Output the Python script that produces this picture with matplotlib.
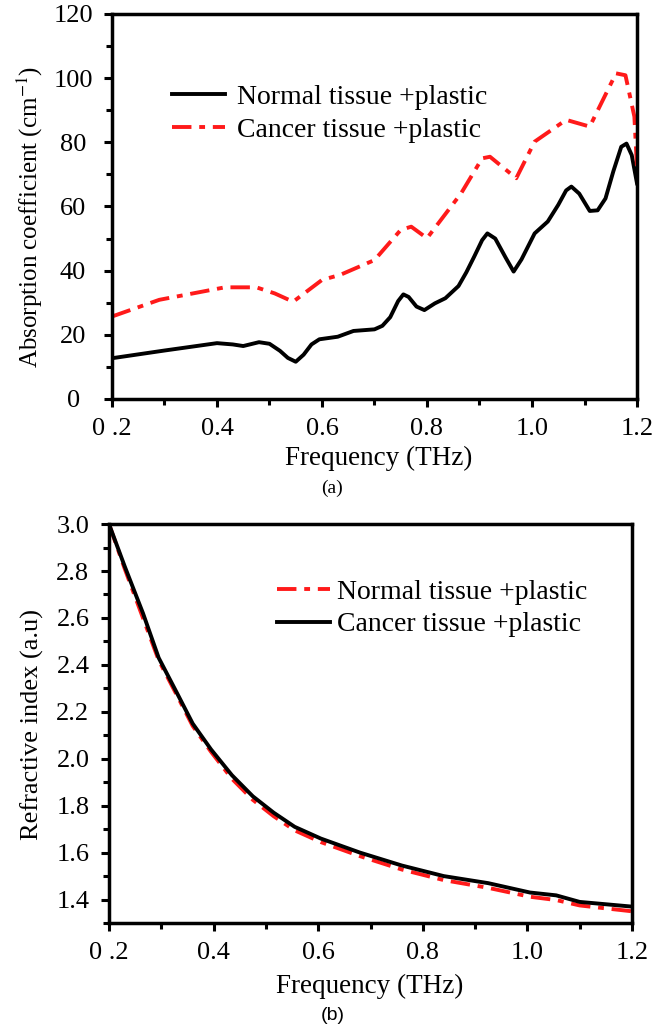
import matplotlib
matplotlib.use('Agg')
import matplotlib.pyplot as plt
from matplotlib.ticker import MultipleLocator

plt.rcParams['font.family'] = ['Liberation Serif', 'DejaVu Serif']
plt.rcParams['mathtext.fontset'] = 'stix'

# (a) absorption coefficient
freq_normal_a = [0.20, 0.30, 0.40, 0.43, 0.45, 0.48, 0.50, 0.52, 0.535, 0.55, 0.565, 0.58,
                 0.595, 0.63, 0.66, 0.70, 0.715, 0.73, 0.745, 0.755, 0.765, 0.78, 0.795,
                 0.815, 0.835, 0.86, 0.875, 0.89, 0.905, 0.915, 0.93, 0.95, 0.965, 0.98,
                 1.005, 1.03, 1.05, 1.065, 1.075, 1.09, 1.11, 1.125, 1.14, 1.155, 1.17,
                 1.18, 1.19, 1.20]
absorb_normal = [12.7, 15.1, 17.4, 17.0, 16.5, 17.7, 17.2, 15.0, 12.8, 11.6, 13.8, 17.0,
                 18.6, 19.4, 21.2, 21.7, 22.8, 25.5, 30.5, 32.6, 31.8, 28.8, 27.7,
                 29.8, 31.4, 35.2, 39.5, 44.4, 49.5, 51.6, 50.0, 44.0, 39.7, 43.5,
                 51.6, 55.3, 60.5, 65.0, 66.2, 64.0, 58.6, 58.8, 62.5, 71.0, 78.6,
                 79.6, 76.0, 67.2]

freq_cancer_a = [0.20, 0.29, 0.415, 0.475, 0.51, 0.545, 0.60, 0.635, 0.70, 0.75, 0.77,
                 0.80, 0.865, 0.905, 0.92, 0.97, 1.005, 1.065, 1.11, 1.16, 1.178, 1.195, 1.20]
absorb_cancer = [25.7, 30.9, 34.8, 34.8, 32.9, 30.3, 37.1, 38.7, 43.3, 52.7, 53.7,
                 50.1, 64.1, 75.0, 75.5, 68.8, 80.2, 87.0, 84.9, 101.5, 100.9, 88.0, 72.0]

# (b) refractive index
freq_b = [0.20, 0.23, 0.265, 0.295, 0.33, 0.36, 0.395, 0.435, 0.475, 0.515, 0.555,
          0.605, 0.68, 0.76, 0.84, 0.925, 1.005, 1.055, 1.10, 1.20]
index_cancer = [3.00, 2.82, 2.62, 2.43, 2.28, 2.15, 2.04, 1.93, 1.84, 1.77, 1.71,
                1.66, 1.60, 1.545, 1.50, 1.47, 1.43, 1.418, 1.39, 1.37]
index_normal = [3.00, 2.81, 2.60, 2.42, 2.27, 2.14, 2.03, 1.915, 1.825, 1.755, 1.695,
                1.645, 1.585, 1.528, 1.483, 1.45, 1.412, 1.398, 1.375, 1.35]

xtick_vals = [0.2, 0.4, 0.6, 0.8, 1.0, 1.2]
xtick_labels = ['0 .2', '0.4', '0.6', '0.8', '1.0', '1.2']

FS = 19
RED = '#ff1a1a'
dashdot = (5, 2, 1.5, 2)

fig = plt.figure(figsize=(6.65, 10.28), dpi=100)
ax1 = fig.add_axes([0.1684, 0.6119, 0.7895, 0.3745])
ax2 = fig.add_axes([0.1639, 0.1021, 0.7865, 0.3881])


def style_axis(ax, ypad):
    for s in ax.spines.values():
        s.set_linewidth(2.5)
    ax.set_xlim(0.2, 1.2)
    ax.set_xticks(xtick_vals)
    ax.set_xticklabels(xtick_labels)
    ax.xaxis.set_minor_locator(MultipleLocator(0.1))
    ax.tick_params(which='both', direction='out', width=2.2, labelsize=FS,
                   top=False, right=False)
    ax.tick_params(which='major', length=6)
    ax.tick_params(which='minor', length=4.5)
    ax.tick_params(axis='x', which='major', pad=8)
    ax.tick_params(axis='y', which='major', pad=ypad)


ax1.plot(freq_normal_a, absorb_normal, color='black', lw=2.8,
         label='Normal tissue +plastic')
ax1.plot(freq_cancer_a, absorb_cancer, color=RED, lw=2.8, dashes=dashdot,
         label='Cancer tissue +plastic')
ax1.set_ylim(0, 120)
ax1.set_yticks([0, 20, 40, 60, 80, 100, 120])
ax1.yaxis.set_minor_locator(MultipleLocator(10))
style_axis(ax1, 22)
ax1.legend(loc='upper left', bbox_to_anchor=(0.114, 0.817), frameon=False,
           fontsize=20, handlelength=1.9, handletextpad=0.45, labelspacing=0.28,
           borderpad=0, borderaxespad=0)

l_red, = ax2.plot(freq_b, index_normal, color=RED, lw=2.8, dashes=dashdot,
                  label='Normal tissue +plastic')
l_blk, = ax2.plot(freq_b, index_cancer, color='black', lw=2.8,
                  label='Cancer tissue +plastic')
ax2.set_ylim(1.3, 3.0)
ax2.set_yticks([1.4, 1.6, 1.8, 2.0, 2.2, 2.4, 2.6, 2.8, 3.0])
ax2.set_yticklabels(['1.4', '1.6', '1.8', '2.0', '2.2', '2.4', '2.6', '2.8', '3.0'])
ax2.yaxis.set_minor_locator(MultipleLocator(0.1))
style_axis(ax2, 20)
ax2.legend(handles=[l_red, l_blk], loc='upper left', bbox_to_anchor=(0.321, 0.861),
           frameon=False, fontsize=20, handlelength=1.9, handletextpad=0.28,
           labelspacing=0.25, borderpad=0, borderaxespad=0)

fig.text(0.045, 0.789, 'Absorption coefficient (cm$^{-1}$)', rotation=90,
         ha='center', va='center', fontsize=18)
fig.text(0.048, 0.295, 'Refractive index (a.u)', rotation=90,
         ha='center', va='center', fontsize=FS)
fig.text(0.569, 0.5545, 'Frequency (THz)', ha='center', va='center', fontsize=19.5)
fig.text(0.556, 0.040, 'Frequency (THz)', ha='center', va='center', fontsize=19.5)
fig.text(0.499, 0.525, '(a)', ha='center', va='center', fontsize=14)
fig.text(0.5, 0.012, '(b)', ha='center', va='center', fontsize=14,
         family=['Liberation Sans', 'DejaVu Sans'])

fig.canvas.draw()
for ax in (ax1, ax2):
    for lab in ax.get_yticklabels():
        lab.set_horizontalalignment('center')

fig.savefig('out.png', dpi=100)
